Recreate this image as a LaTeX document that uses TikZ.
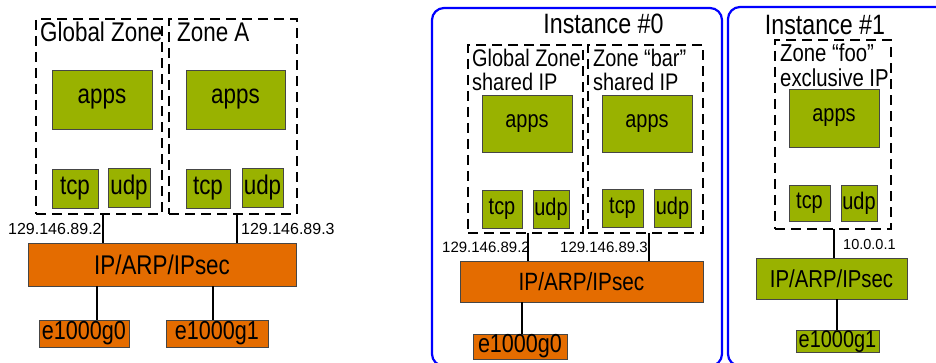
\documentclass[tikz,border=0pt]{standalone}
\usepackage{fontspec}
\setmainfont{Liberation Sans}[FakeStretch=0.83]
\newfontfamily\ipfont{Liberation Sans}
\newcommand{\setfs}[1]{\fontsize{#1}{#1}\selectfont}

\definecolor{zgreen}{RGB}{153,178,0}
\definecolor{zorange}{RGB}{228,108,0}
\definecolor{zedge}{RGB}{70,70,70}

\tikzset{
  sz/.style 2 args={minimum width=#1pt, minimum height=#2pt, inner sep=0pt},
  greenbox/.style={draw=zedge, line width=0.6pt, fill=zgreen},
  orangebox/.style={draw=zedge, line width=0.6pt, fill=zorange},
  zonebox/.style={draw=black, line width=2.7pt, dash pattern=on 10pt off 6pt},
  wire/.style={draw=black, line width=1.8pt},
  instbox/.style={draw=blue, line width=2.2pt, rounded corners=12pt},
  addr/.style={anchor=west, inner sep=0pt, font=\ipfont\setfs{16}},
  zlabel/.style={anchor=west, inner sep=0pt, align=left}
}

\begin{document}
\begin{tikzpicture}[x=1pt, y=-1pt]

    \useasboundingbox (0,0) rectangle (936,363);

    % left: shared stack
    \node[zonebox, sz={126}{195}] (gzA) at (99,116.5) {};
    \node[zonebox, sz={128}{195}] (zA) at (233,116.5) {};
    \node[zlabel, font=\setfs{27}] (gzAlbl) at (40,32) {Global Zone};
    \node[zlabel, font=\setfs{27}] (zAlbl) at (177,32) {Zone A};

    \node[greenbox, sz={100}{59}, font=\setfs{27}] (appsA1) at (102,99.5) {apps};
    \node[greenbox, sz={99}{59}, font=\setfs{27}] (appsA2) at (235.5,99.5) {apps};
    \node[greenbox, sz={46}{39}, font=\setfs{27}] (tcpA1) at (75,188.5) {tcp};
    \node[greenbox, sz={42}{39}, font=\setfs{27}] (udpA1) at (129,187.5) {udp};
    \node[greenbox, sz={44}{39}, font=\setfs{27}] (tcpA2) at (208,188.5) {tcp};
    \node[greenbox, sz={41}{39}, font=\setfs{27}] (udpA2) at (262.5,187.5) {udp};

    \node[orangebox, sz={268}{43}, font=\setfs{27}] (ipA) at (162,264.5) {IP/ARP/IPsec};
    \node[orangebox, sz={90}{27}, font=\setfs{26}] (ethA0) at (84,333.5) {e1000g0};
    \node[orangebox, sz={102}{27}, font=\setfs{26}] (ethA1) at (217,333.5) {e1000g1};

    \coordinate (pA1) at (103,214);
    \coordinate (pA2) at (237,214);
    \draw[wire] (pA1) -- (pA1 |- ipA.north);
    \draw[wire] (pA2) -- (pA2 |- ipA.north);
    \draw[wire] (ipA.south -| ethA0.north) ++(13,0) coordinate (qA0) -- (qA0 |- ethA0.north);
    \draw[wire] (ipA.south -| ethA1.north) ++(-4,0) coordinate (qA1) -- (qA1 |- ethA1.north);
    \node[addr] (adrA1) at (8,229) {129.146.89.2};
    \node[addr] (adrA2) at (241,229) {129.146.89.3};

    % middle: instance 0
    \draw[instbox] (432,8) rectangle (722,366);
    \node[inner sep=0pt, font=\setfs{28}] (inst0) at (603.5,24) {Instance \#0};

    \node[zonebox, sz={115}{188}] (gzB) at (525.5,139) {};
    \node[zonebox, sz={115}{188}] (zB) at (645.5,139) {};
    \node[zlabel, font=\setfs{24}] (gzBlbl) at (472,70) {Global Zone\\[0pt]shared IP};
    \node[zlabel, font=\setfs{24}] (zBlbl) at (593,70) {Zone “bar”\\[0pt]shared IP};

    \node[greenbox, sz={90}{57}, font=\setfs{24}] (appsB1) at (527,123.5) {apps};
    \node[greenbox, sz={90}{57}, font=\setfs{24}] (appsB2) at (647,123.5) {apps};
    \node[greenbox, sz={40}{38}, font=\setfs{24}] (tcpB1) at (502,209) {tcp};
    \node[greenbox, sz={36}{38}, font=\setfs{24}] (udpB1) at (551,209) {udp};
    \node[greenbox, sz={41}{38}, font=\setfs{24}] (tcpB2) at (622.5,208) {tcp};
    \node[greenbox, sz={37}{38}, font=\setfs{24}] (udpB2) at (672.5,208) {udp};

    \node[orangebox, sz={243}{41}, font=\setfs{25}] (ipB) at (581.5,281.5) {IP/ARP/IPsec};
    \node[orangebox, sz={94}{25}, font=\setfs{26}] (ethB0) at (520,346.5) {e1000g0};

    \coordinate (pB1) at (528,233);
    \coordinate (pB2) at (649,233);
    \draw[wire] (pB1) -- (pB1 |- ipB.north);
    \draw[wire] (pB2) -- (pB2 |- ipB.north);
    \coordinate (qB0) at (522,302);
    \draw[wire] (qB0) -- (qB0 |- ethB0.north);
    \node[addr, font=\ipfont\setfs{15}] (adrB1) at (442,247) {129.146.89.2};
    \node[addr, font=\ipfont\setfs{15}] (adrB2) at (560,247) {129.146.89.3};

    % right: instance 1
    \draw[instbox] (728,7) rectangle (960,366);
    \node[inner sep=0pt, font=\setfs{28}] (inst1) at (825,25) {Instance \#1};

    \node[zonebox, sz={116}{189}] (zC) at (833,134.5) {};
    \node[zlabel, font=\setfs{24.5}] (zClbl) at (780,65.5) {Zone “foo”\\[1pt]exclusive IP};

    \node[greenbox, sz={90}{58}, font=\setfs{24}] (appsC) at (834,118) {apps};
    \node[greenbox, sz={41}{36}, font=\setfs{24}] (tcpC) at (809.5,203) {tcp};
    \node[greenbox, sz={36}{36}, font=\setfs{24}] (udpC) at (859,203) {udp};

    \node[greenbox, sz={151}{41}, font=\setfs{24.5}] (ipC) at (831.5,278.5) {IP/ARP/IPsec};
    \node[greenbox, sz={83}{19}, font=\setfs{24}] (ethC) at (837.5,341.5) {e1000g1};

    \coordinate (pC) at (834,229);
    \draw[wire] (pC) -- (pC |- ipC.north);
    \coordinate (qC) at (837,299);
    \draw[wire] (qC) -- (qC |- ethC.north);
    \node[addr, font=\ipfont\setfs{14.5}] (adrC) at (843,245) {10.0.0.1};

\end{tikzpicture}
\end{document}
